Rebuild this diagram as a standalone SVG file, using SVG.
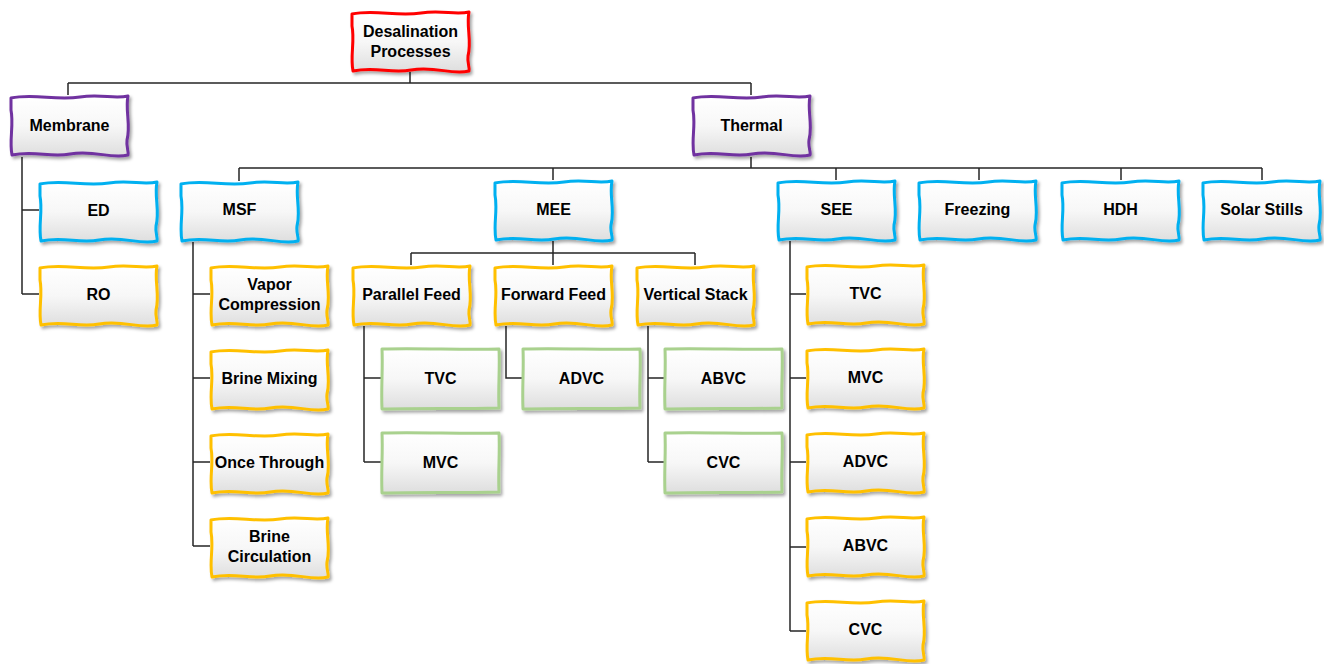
<svg xmlns="http://www.w3.org/2000/svg" width="1324" height="664" viewBox="0 0 1324 664">
<defs>
<linearGradient id="fillg" x1="0" y1="0" x2="0" y2="1">
<stop offset="0" stop-color="#ffffff"/>
<stop offset="0.5" stop-color="#f7f7f7"/>
<stop offset="1" stop-color="#dedede"/>
</linearGradient>
<filter id="sh" x="-10%" y="-10%" width="125%" height="130%">
<feDropShadow dx="2" dy="2.5" stdDeviation="1.5" flood-color="#000" flood-opacity="0.35"/>
</filter>
<path id="wavy" d="M1,3 C25,-2 45,6 70,2 C90,-1 105,4 118,1 C115,15 121,30 117,45 C116,52 119,57 118,60 C100,64 85,55 60,59 C40,63 25,55 2,60 C-1,45 4,30 1,15 Z"/>
<path id="flat" d="M1,1 C40,0 80,2 118,1 C119,20 117,40 118,60 C80,61 40,60 1,61 C0,40 2,20 1,1 Z"/>
<style>
.n use{fill:url(#fillg);stroke-width:3;filter:url(#sh);stroke-linejoin:round}
.red use{stroke:#ff0000}
.pur use{stroke:#7030a0}
.blu use{stroke:#00b0f0}
.yel use{stroke:#ffc000}
.grn use{stroke:#a9d18e}
.n text{font-family:"Liberation Sans",Arial,sans-serif;font-weight:bold;font-size:16px;fill:#000;text-anchor:middle}
#connectors path{fill:none;stroke:#262626;stroke-width:1.5}
</style>
</defs>

<g id="connectors">
<path d="M410,72 V83 M68,83 H751 M68,83 V95 M751,83 V95"/>
<path d="M22,157 V294 M22,210 H39 M22,294 H39"/>
<path d="M751,157 V168 M239,168 H1262 M239,168 V181 M553,168 V180 M836,168 V180 M979,168 V180 M1121,168 V180 M1262,168 V180"/>
<path d="M193,242 V546 M193,294 H210 M193,378 H210 M193,462 H210 M193,546 H210"/>
<path d="M553,241 V253 M411,253 H695 M411,253 V265 M553,253 V265 M695,253 V265"/>
<path d="M364,326 V462 M364,378 H381 M364,462 H381"/>
<path d="M506,326 V378 H522"/>
<path d="M648,326 V462 M648,378 H664 M648,462 H664"/>
<path d="M790,241 V631 M790,294 H806 M790,378 H806 M790,462 H806 M790,547 H806 M790,631 H806"/>
</g>

<g id="desalination" class="n red" transform="translate(351,11)"><use href="#wavy"/><text x="59.5" y="26">Desalination</text><text x="59.5" y="46">Processes</text></g>
<g id="membrane" class="n pur" transform="translate(10,95)"><use href="#wavy"/><text x="59.5" y="36">Membrane</text></g>
<g id="thermal" class="n pur" transform="translate(692,95)"><use href="#wavy"/><text x="59.5" y="36">Thermal</text></g>

<g id="ed" class="n blu" transform="translate(39,181)"><use href="#wavy"/><text x="59.5" y="35">ED</text></g>
<g id="ro" class="n yel" transform="translate(39,265)"><use href="#wavy"/><text x="59.5" y="35">RO</text></g>

<g id="msf" class="n blu" transform="translate(180,181)"><use href="#wavy"/><text x="59.5" y="34">MSF</text></g>
<g id="mee" class="n blu" transform="translate(494,180)"><use href="#wavy"/><text x="59.5" y="35">MEE</text></g>
<g id="see" class="n blu" transform="translate(777,180)"><use href="#wavy"/><text x="59.5" y="35">SEE</text></g>
<g id="freezing" class="n blu" transform="translate(918,180)"><use href="#wavy"/><text x="59.5" y="35">Freezing</text></g>
<g id="hdh" class="n blu" transform="translate(1061,180)"><use href="#wavy"/><text x="59.5" y="35">HDH</text></g>
<g id="solar-stills" class="n blu" transform="translate(1202,180)"><use href="#wavy"/><text x="59.5" y="35">Solar Stills</text></g>

<g id="vapor-compression" class="n yel" transform="translate(210,265)"><use href="#wavy"/><text x="59.5" y="25">Vapor</text><text x="59.5" y="45">Compression</text></g>
<g id="brine-mixing" class="n yel" transform="translate(210,349)"><use href="#wavy"/><text x="59.5" y="35">Brine Mixing</text></g>
<g id="once-through" class="n yel" transform="translate(210,433)"><use href="#wavy"/><text x="59.5" y="35">Once Through</text></g>
<g id="brine-circulation" class="n yel" transform="translate(210,517)"><use href="#wavy"/><text x="59.5" y="25">Brine</text><text x="59.5" y="45">Circulation</text></g>

<g id="parallel-feed" class="n yel" transform="translate(352,265)"><use href="#wavy"/><text x="59.5" y="35">Parallel Feed</text></g>
<g id="forward-feed" class="n yel" transform="translate(494,265)"><use href="#wavy"/><text x="59.5" y="35">Forward Feed</text></g>
<g id="vertical-stack" class="n yel" transform="translate(636,265)"><use href="#wavy"/><text x="59.5" y="35">Vertical Stack</text></g>

<g id="pf-tvc" class="n grn" transform="translate(381,348)"><use href="#flat"/><text x="59.5" y="36">TVC</text></g>
<g id="pf-mvc" class="n grn" transform="translate(381,432)"><use href="#flat"/><text x="59.5" y="36">MVC</text></g>
<g id="ff-advc" class="n grn" transform="translate(522,348)"><use href="#flat"/><text x="59.5" y="36">ADVC</text></g>
<g id="vs-abvc" class="n grn" transform="translate(664,348)"><use href="#flat"/><text x="59.5" y="36">ABVC</text></g>
<g id="vs-cvc" class="n grn" transform="translate(664,432)"><use href="#flat"/><text x="59.5" y="36">CVC</text></g>

<g id="see-tvc" class="n yel" transform="translate(806,264)"><use href="#wavy"/><text x="59.5" y="35">TVC</text></g>
<g id="see-mvc" class="n yel" transform="translate(806,348)"><use href="#wavy"/><text x="59.5" y="35">MVC</text></g>
<g id="see-advc" class="n yel" transform="translate(806,432)"><use href="#wavy"/><text x="59.5" y="35">ADVC</text></g>
<g id="see-abvc" class="n yel" transform="translate(806,516)"><use href="#wavy"/><text x="59.5" y="35">ABVC</text></g>
<g id="see-cvc" class="n yel" transform="translate(806,600)"><use href="#wavy"/><text x="59.5" y="35">CVC</text></g>
</svg>
